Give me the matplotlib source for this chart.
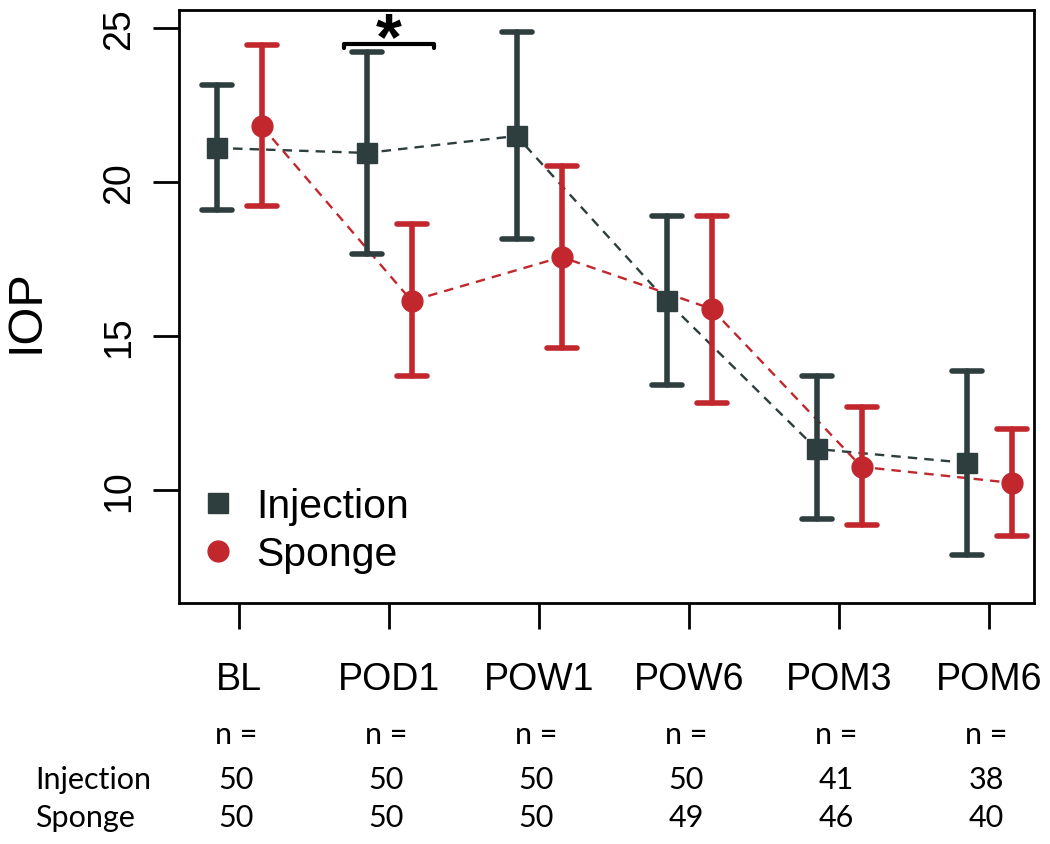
import numpy as np
import matplotlib
matplotlib.use("Agg")
import matplotlib.pyplot as plt
from matplotlib.lines import Line2D
from matplotlib.markers import MarkerStyle
from matplotlib import transforms

# time points and group summaries (mean with lower / upper error bar ends)
categories = ["BL", "POD1", "POW1", "POW6", "POM3", "POM6"]
inj_mean = [21.10, 20.94, 21.49, 16.14, 11.33, 10.88]
inj_low = [19.09, 17.66, 18.15, 13.41, 9.06, 7.89]
inj_high = [23.15, 24.22, 24.87, 18.90, 13.70, 13.86]
sp_mean = [21.82, 16.14, 17.56, 15.88, 10.75, 10.23]
sp_low = [19.22, 13.70, 14.61, 12.82, 8.86, 8.51]
sp_high = [24.45, 18.64, 20.52, 18.90, 12.69, 11.98]
n_inj = [50, 50, 50, 50, 41, 38]
n_sp = [50, 50, 50, 49, 46, 40]
yticks = [10, 15, 20, 25]

c_inj = "#2E3D3D"
c_sp = "#C1272D"

plt.rcParams["font.family"] = ["Liberation Sans", "DejaVu Sans"]

fig = plt.figure(figsize=(10.5, 8.45), dpi=100)
ax = fig.add_axes([0.1705, 0.2852, 0.8143, 0.7018])

pos = np.arange(1, len(categories) + 1)
off = 0.15


def draw_group(x, mean, low, high, color, marker, ms):
    mean = np.array(mean)
    yerr = [mean - np.array(low), np.array(high) - mean]
    ax.plot(x, mean, ls=(0, (4, 3)), lw=1.7, color=color, zorder=2)
    eb = ax.errorbar(x, mean, yerr=yerr, fmt="none", ecolor=color,
                     elinewidth=4, capsize=11, capthick=4, zorder=3)
    for cap in eb[1]:
        cap.set_marker(MarkerStyle("_", capstyle="round"))
    eb[2][0].set_capstyle("round")
    ax.plot(x, mean, marker=marker, ls="none", ms=ms, color=color, zorder=4)


draw_group(pos - off, inj_mean, inj_low, inj_high, c_inj, "s", 14)
draw_group(pos + off, sp_mean, sp_low, sp_high, c_sp, "o", 15)

# significance bracket at POD1
ax.plot([1.7, 1.7, 2.3, 2.3], [24.36, 24.48, 24.48, 24.36], color="black",
        lw=3, solid_capstyle="round", solid_joinstyle="round", zorder=5)
ax.text(2.0, 24.56, "*", ha="center", va="center", fontsize=48,
        fontweight="bold", zorder=5)

ax.set_xlim(0.6, 6.3)
ax.set_ylim(6.33, 25.58)
ax.set_xticks(pos, categories)
ax.set_yticks(yticks, [str(t) for t in yticks])
ax.tick_params(axis="both", length=19, width=2, labelsize=27)
ax.tick_params(axis="x", pad=23)
ax.tick_params(axis="y", pad=11)
for lbl in ax.get_yticklabels():
    lbl.set_rotation(90)
    lbl.set_va("center")
for sp in ax.spines.values():
    sp.set_linewidth(2)

fig.text(26 / 1050, 1 - 311 / 845, "IOP", rotation=90, ha="center",
         va="center", fontsize=35)

handles = [Line2D([], [], marker="s", ls="none", ms=14, color=c_inj),
           Line2D([], [], marker="o", ls="none", ms=15, color=c_sp)]
ax.legend(handles, ["Injection", "Sponge"], loc="lower left",
          bbox_to_anchor=(0.026, 0.05), frameon=False, fontsize=29.5,
          handlelength=0.8, handletextpad=0.55, labelspacing=0.25,
          borderpad=0, borderaxespad=0)

# sample size table under the axis
tfont = ["Lato", "DejaVu Sans"]
tr = transforms.blended_transform_factory(ax.transData, fig.transFigure)
row_y = [1 - 735 / 845, 1 - 780 / 845, 1 - 818 / 845]
fig.text(35 / 1050, row_y[1], "Injection", ha="left", va="center",
         fontsize=22, family=tfont)
fig.text(35 / 1050, row_y[2], "Sponge", ha="left", va="center",
         fontsize=22, family=tfont)
for p, a, b in zip(pos, n_inj, n_sp):
    ax.text(p - 0.02, row_y[0], "n =", transform=tr, ha="center",
            va="center", fontsize=22, family=tfont)
    ax.text(p - 0.02, row_y[1], str(a), transform=tr, ha="center",
            va="center", fontsize=22, family=tfont)
    ax.text(p - 0.02, row_y[2], str(b), transform=tr, ha="center",
            va="center", fontsize=22, family=tfont)

fig.savefig("out.png", dpi=100)
